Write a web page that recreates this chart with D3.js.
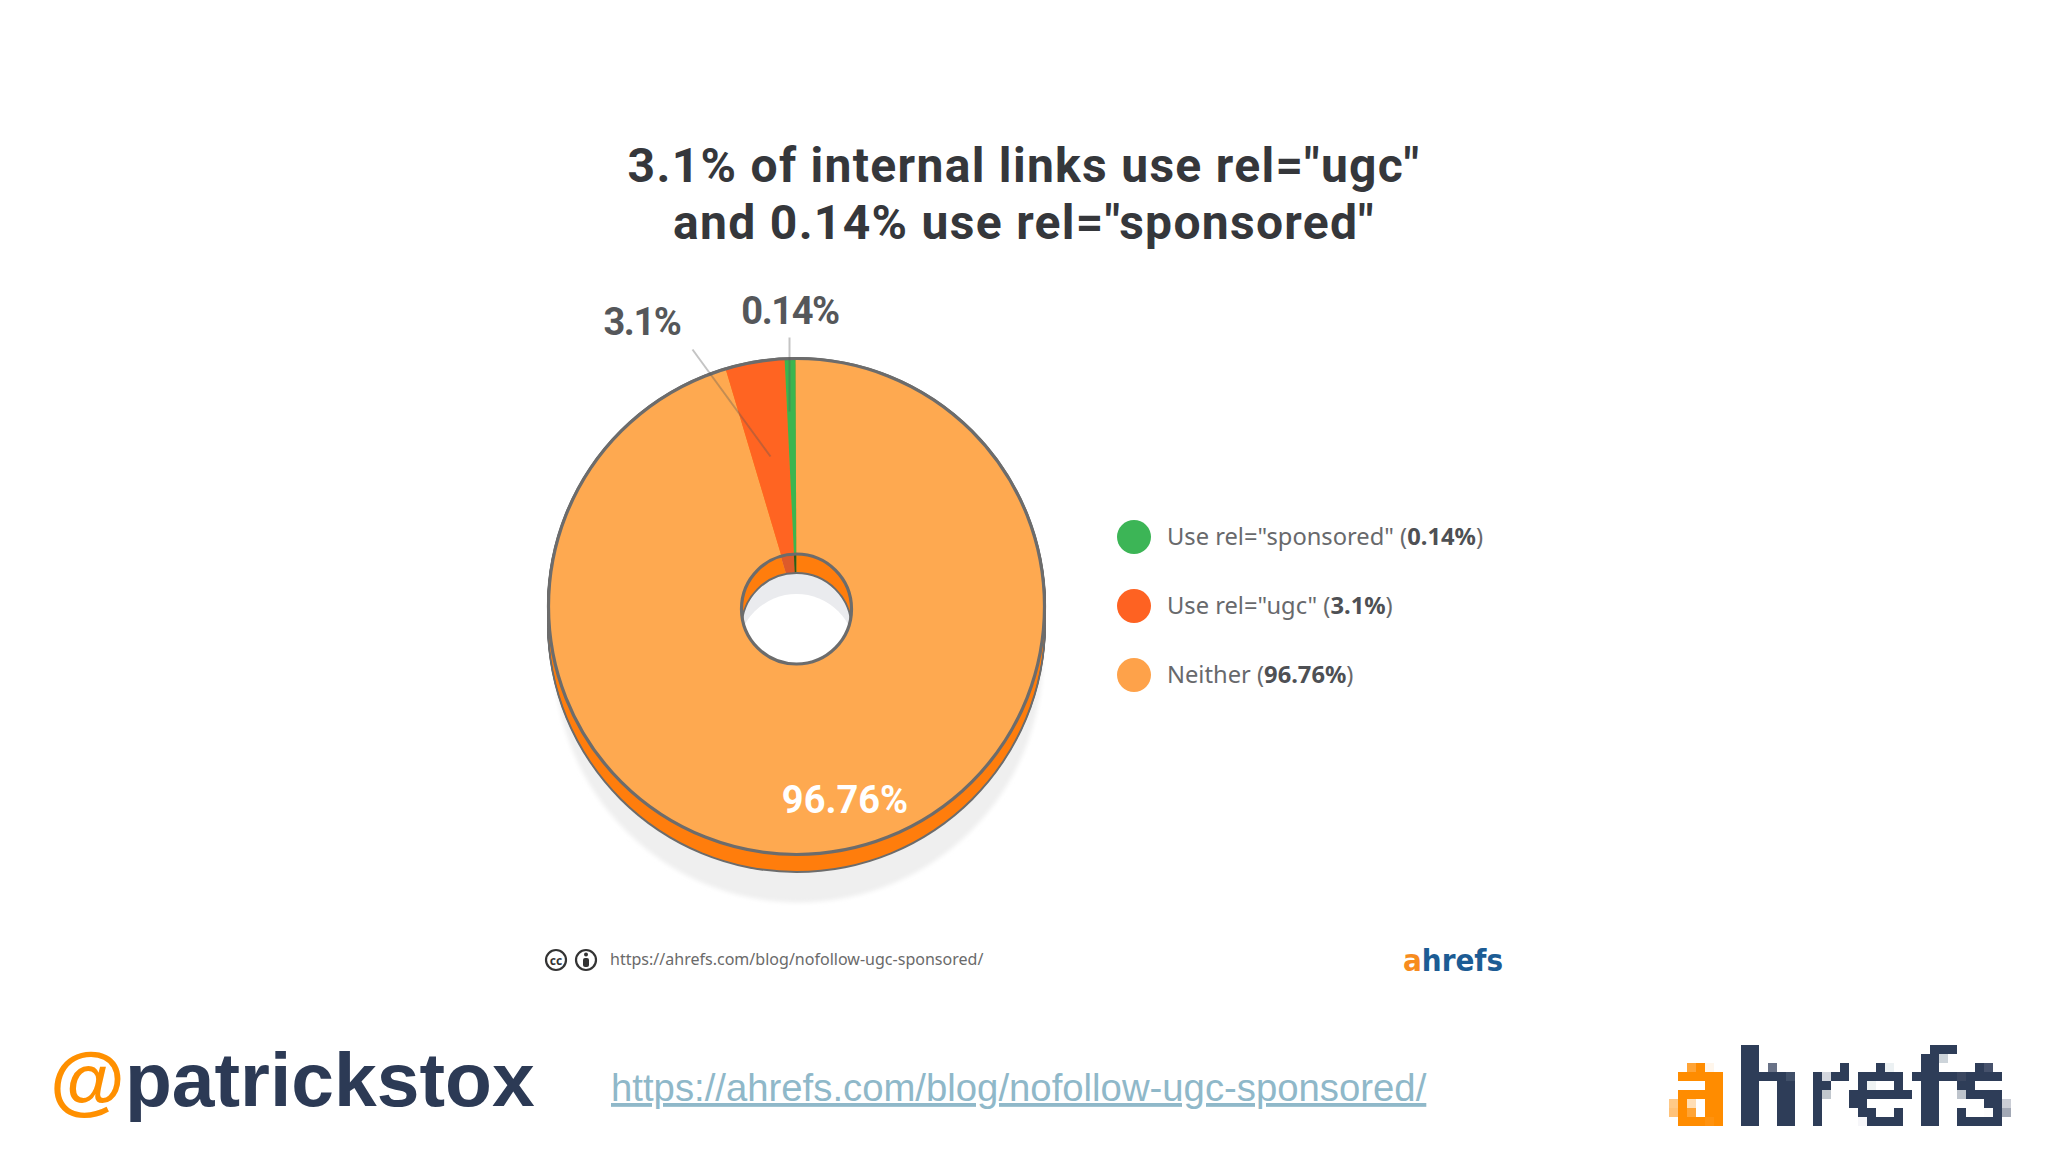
<!DOCTYPE html>
<html lang="en">
    <head>
        <meta charset="utf-8">
        <title>Internal links rel ugc sponsored</title>
        <script src="https://cdn.jsdelivr.net/npm/d3@7/dist/d3.min.js" charset="utf-8"></script>
        <style>
            html, body { margin: 0; padding: 0; background: #fff; }
        </style>
    </head>
    <body>
        <div id="chart"></div>
        <script>
            // order is clockwise from 12 o'clock, as drawn
            var categories = ["Neither", 'Use rel="ugc"', 'Use rel="sponsored"'];
            var valueLabels = ["96.76%", "3.1%", "0.14%"];
            // wedge sizes, the drawing exaggerates the small slices
            var wedgeShares = [95.45, 3.85, 0.7];
            var legendOrder = [2, 1, 0];
            var titleLines = ['3.1% of internal links use rel="ugc"', 'and 0.14% use rel="sponsored"'];
            var sourceUrl = "https://ahrefs.com/blog/nofollow-ugc-sponsored/";

            var faceColors = ["#fea950", "#ff6422", "#3cb54f"];
            var wallColors = ["#ff7d0c", "#dd5a2a", "#2c5a18"];
            var legendColors = ["#fea24a", "#fe6222", "#3cb556"];
            var lineColor = "#6c6c6c";
            var headFont = "Roboto, sans-serif";
            var bodyFont = "'Noto Sans', sans-serif";
            var logoFont = "'DejaVu Sans Condensed', 'DejaVu Sans', sans-serif";

            var width = 2048, height = 1152;
            var cx = 796.5, cy = 606.5, radius = 248, holeRadius = 55, holeDrop = 2.5, depth = 17;

            var svg = d3.select("#chart").append("svg")
                .attr("width", width)
                .attr("height", height)
                .style("display", "block");

            var defs = svg.append("defs");
            defs.append("filter").attr("id", "soft").append("feGaussianBlur").attr("stdDeviation", 2);
            defs.append("clipPath").attr("id", "holeClip").append("circle")
                .attr("r", holeRadius);

            // logo letters are blocks, so quantize the real text into squares
            function pixelFilter(id, size) {
                var half = Math.floor(size / 2);
                var f = defs.append("filter").attr("id", id)
                    .attr("x", "-5%").attr("y", "-5%").attr("width", "110%").attr("height", "110%");
                f.append("feFlood").attr("x", half).attr("y", half).attr("width", 1).attr("height", 1);
                f.append("feComposite").attr("x", 0).attr("y", 0).attr("width", size).attr("height", size);
                f.append("feTile").attr("result", "grid");
                f.append("feComposite").attr("in", "SourceGraphic").attr("in2", "grid").attr("operator", "in");
                f.append("feMorphology").attr("operator", "dilate").attr("radius", half);
            }
            pixelFilter("pixel", 9);

            var pie = d3.pie().sort(null).value(function(d) { return d; })
                .startAngle(-0.004).endAngle(2 * Math.PI - 0.004);
            var slices = pie(wedgeShares);

            var wall = d3.arc().innerRadius(0).outerRadius(holeRadius);
            var face = d3.arc().innerRadius(0).outerRadius(radius);

            var chart = svg.append("g")
                .attr("transform", "translate(" + cx + "," + cy + ")");

            // drop shadow under the disc
            chart.append("circle")
                .attr("cx", 2)
                .attr("cy", 52)
                .attr("r", 244)
                .attr("fill", "#efefef")
                .attr("filter", "url(#soft)");

            // side of the disc: stacked copies, outline first then fill
            var layers = d3.range(0, depth + 1);
            chart.selectAll(".edge").data(layers).enter().append("circle")
                .attr("class", "edge")
                .attr("cy", function(d) { return d; })
                .attr("r", radius + 1.5)
                .attr("fill", lineColor);
            chart.selectAll(".side").data(layers).enter().append("circle")
                .attr("class", "side")
                .attr("cy", function(d) { return d; })
                .attr("r", radius - 0.5)
                .attr("fill", wallColors[0]);

            chart.selectAll(".slice").data(slices).enter().append("path")
                .attr("class", "slice")
                .attr("d", face)
                .attr("fill", function(d, i) { return faceColors[i]; });

            // top outline of the disc
            chart.append("circle")
                .attr("r", radius)
                .attr("fill", "none")
                .attr("stroke", lineColor)
                .attr("stroke-width", 3.2);

            // inside of the hole, it sits a little below the disc center
            var holeGroup = chart.append("g")
                .attr("transform", "translate(0," + holeDrop + ")");
            var hole = holeGroup.append("g").attr("clip-path", "url(#holeClip)");
            hole.selectAll(".wall").data(slices).enter().append("path")
                .attr("class", "wall")
                .attr("d", wall)
                .attr("fill", function(d, i) { return wallColors[i]; });
            hole.append("circle")
                .attr("cy", 19)
                .attr("r", holeRadius)
                .attr("fill", "#eaebee")
                .attr("stroke", lineColor)
                .attr("stroke-width", 2);
            hole.append("circle")
                .attr("cy", 44)
                .attr("r", holeRadius + 4)
                .attr("fill", "#ffffff");
            holeGroup.append("circle")
                .attr("r", holeRadius)
                .attr("fill", "none")
                .attr("stroke", lineColor)
                .attr("stroke-width", 3.2);

            // leader lines
            var leaders = [[-104, -257, -26, -150], [-7, -269, -7, -195]];
            chart.selectAll(".leader").data(leaders).enter().append("line")
                .attr("class", "leader")
                .attr("x1", function(d) { return d[0]; })
                .attr("y1", function(d) { return d[1]; })
                .attr("x2", function(d) { return d[2]; })
                .attr("y2", function(d) { return d[3]; })
                .attr("stroke", "#555")
                .attr("stroke-opacity", 0.35)
                .attr("stroke-width", 2);

            // value labels
            var labelSpots = [[845, 813, "#ffffff", 0], [642, 335, "#55575a", -1.4], [790, 324, "#55575a", -1.4]];
            svg.selectAll(".value").data(valueLabels).enter().append("text")
                .attr("class", "value")
                .attr("x", function(d, i) { return labelSpots[i][0]; })
                .attr("y", function(d, i) { return labelSpots[i][1]; })
                .attr("text-anchor", "middle")
                .attr("font-family", headFont)
                .attr("font-weight", 700)
                .attr("font-size", 38)
                .attr("letter-spacing", function(d, i) { return labelSpots[i][3]; })
                .attr("fill", function(d, i) { return labelSpots[i][2]; })
                .text(function(d) { return d; });

            // title
            svg.selectAll(".title").data(titleLines).enter().append("text")
                .attr("class", "title")
                .attr("x", 1024)
                .attr("y", function(d, i) { return 182 + i * 57; })
                .attr("text-anchor", "middle")
                .attr("font-family", headFont)
                .attr("font-weight", 700)
                .attr("font-size", 48)
                .attr("letter-spacing", 1.3)
                .attr("fill", "#35373b")
                .text(function(d) { return d; });

            // legend
            var legendY = d3.scalePoint().domain(legendOrder).range([537, 675]);
            var legend = svg.selectAll(".legend").data(legendOrder).enter().append("g")
                .attr("class", "legend")
                .attr("transform", function(d) { return "translate(1134," + legendY(d) + ")"; });
            legend.append("circle")
                .attr("r", 17)
                .attr("fill", function(d) { return legendColors[d]; });
            var legendText = legend.append("text")
                .attr("x", 33)
                .attr("y", 8)
                .attr("font-family", bodyFont)
                .attr("font-size", 23.7)
                .attr("fill", "#68696c");
            legendText.append("tspan").text(function(d) { return categories[d] + " ("; });
            legendText.append("tspan")
                .attr("font-weight", 700)
                .attr("fill", "#4e5054")
                .text(function(d) { return valueLabels[d]; });
            legendText.append("tspan").text(")");

            // licence badges and source line
            var badges = svg.append("g").attr("fill", "none").attr("stroke", "#333").attr("stroke-width", 2.2);
            badges.append("circle").attr("cx", 556).attr("cy", 960).attr("r", 10);
            badges.append("circle").attr("cx", 586).attr("cy", 960).attr("r", 10);
            svg.append("text")
                .attr("x", 556).attr("y", 964.5)
                .attr("text-anchor", "middle")
                .attr("font-family", bodyFont).attr("font-weight", 700).attr("font-size", 12)
                .attr("fill", "#333")
                .text("cc");
            svg.append("circle").attr("cx", 586).attr("cy", 954.5).attr("r", 2).attr("fill", "#333");
            svg.append("rect").attr("x", 583).attr("y", 958).attr("width", 6).attr("height", 9).attr("rx", 2).attr("fill", "#333");
            svg.append("text")
                .attr("x", 610).attr("y", 965)
                .attr("font-family", bodyFont).attr("font-size", 16.05)
                .attr("fill", "#6a6a6a")
                .text(sourceUrl);

            // small logo
            var smallLogo = svg.append("text")
                .attr("x", 1403).attr("y", 971)
                .attr("font-family", logoFont)
                .attr("font-stretch", "condensed")
                .attr("font-weight", 700)
                .attr("font-size", 31)
                .attr("fill", "#1c5c94");
            smallLogo.append("tspan").attr("fill", "#f78c1e").text("a");
            smallLogo.append("tspan").text("hrefs");

            // footer
            var handle = svg.append("text")
                .attr("x", 50).attr("y", 1106)
                .attr("font-family", "'Liberation Sans', sans-serif")
                .attr("font-weight", 700)
                .attr("font-size", 76.8)
                .attr("fill", "#2c3a55");
            handle.append("tspan").attr("fill", "#ff9000").text("@");
            handle.append("tspan").text("patrickstox");

            svg.append("text")
                .attr("x", 611).attr("y", 1101)
                .attr("font-family", "'Liberation Sans', sans-serif")
                .attr("font-size", 38.3)
                .attr("fill", "#8fb8c9")
                .attr("text-decoration", "underline")
                .text(sourceUrl);

            // filter grid is anchored at the group origin, so the text stays at 0,0
            var bigLogo = svg.append("g")
                .attr("transform", "translate(1669,1126)")
                .append("text")
                .attr("x", 0).attr("y", 0)
                .attr("font-family", logoFont)
                .attr("font-stretch", "condensed")
                .attr("font-weight", 700)
                .attr("font-size", 106)
                .attr("filter", "url(#pixel)")
                .attr("fill", "#2f3d58");
            bigLogo.append("tspan").attr("fill", "#ff8c00").text("a");
            bigLogo.append("tspan").text("hrefs");
        </script>
    </body>
</html>
